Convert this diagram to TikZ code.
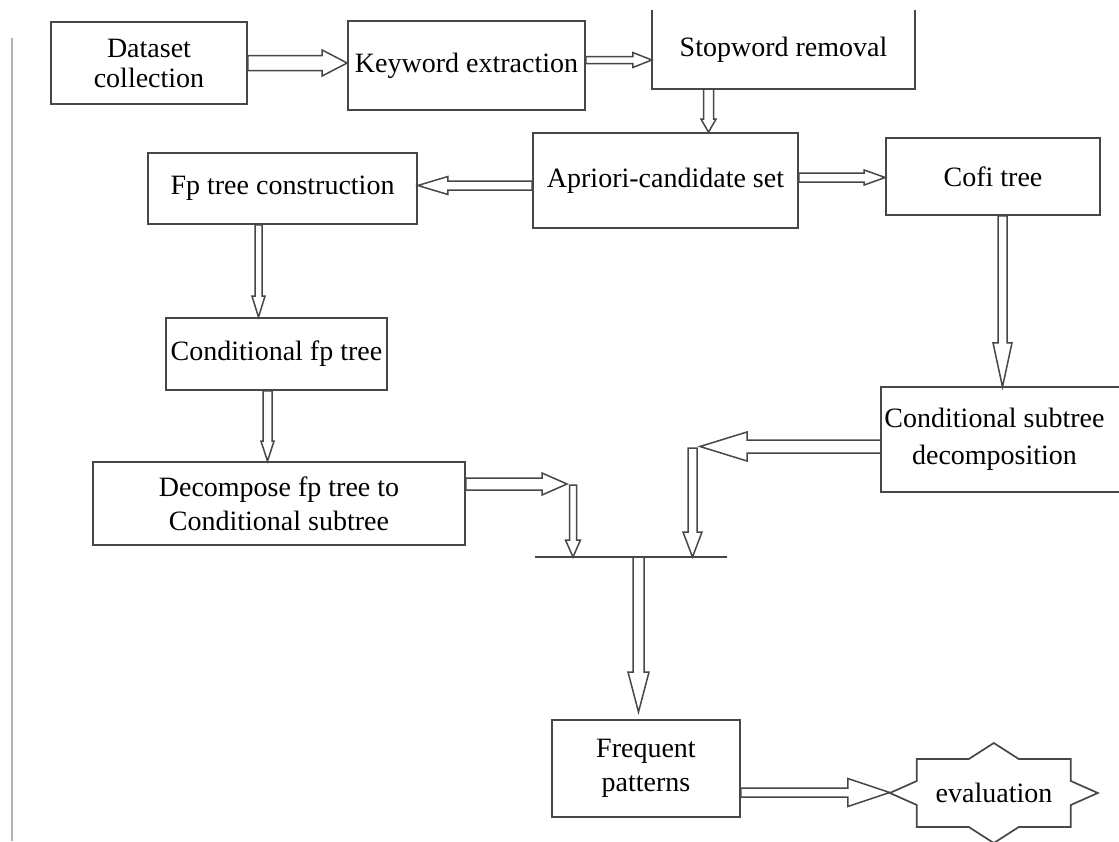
\documentclass[tikz,border=0pt]{standalone}
\usepackage{fontspec}
\setmainfont{Liberation Serif}
\usetikzlibrary{calc}

% hollow block arrow: start, tip, shaft half width, head half width, head length
\newcommand{\hollowarrow}[5]{%
  \coordinate (ha) at (#1);
  \coordinate (hz) at (#2);
  \coordinate (hb) at ($(hz)!#5!(ha)$);
  \draw[arrowline] ($(ha)!#3!90:(hz)$) -- ($(hb)!#3!90:(hz)$) -- ($(hb)!#4!90:(hz)$) -- (hz)
    -- ($(hb)!#4!-90:(hz)$) -- ($(hb)!#3!-90:(hz)$) -- ($(ha)!#3!-90:(hz)$) -- cycle;}

\begin{document}
\begin{tikzpicture}[x=1pt, y=-1pt,
    boxline/.style = {draw=black!72, line width=1.7pt},
    box/.style = {boxline, align=center, inner sep=0pt},
    openbox/.style = {align=center, inner sep=0pt},
    arrowline/.style = {draw=black!72, line width=1.5pt, fill=white, line join=miter},
    font=\fontsize{28}{34}\selectfont]
        \useasboundingbox (0,0) rectangle (1119,841);
        \draw[black!30, line width=1.5pt] (12,38) -- (12,841);

        \node[box, minimum width=196pt, minimum height=82pt, font=\fontsize{28}{30}\selectfont] (data) at (149,63) {Dataset\\collection};
        \node[box, minimum width=237pt, minimum height=89pt] (keyword) at (466.5,65.5) {Keyword extraction};
        \node[openbox, minimum width=263pt, minimum height=79pt] (stop) at (783.5,49.5) {Stopword removal};
        \node[box, minimum width=265pt, minimum height=95pt] (apriori) at (665.5,180.5) {Apriori-candidate set};
        \node[box, minimum width=269pt, minimum height=71pt] (fp) at (282.5,188.5) {Fp tree construction};
        \node[box, minimum width=214pt, minimum height=77pt] (cofi) at (993,176.5) {Cofi tree};
        \node[box, minimum width=221pt, minimum height=72pt] (condfp) at (276.5,354) {Conditional fp tree};
        \node[openbox, minimum width=227pt, minimum height=105pt, font=\fontsize{28}{37}\selectfont] (condsub) at (994.5,439.5) {Conditional subtree\\decomposition};
        \node[box, minimum width=372pt, minimum height=83pt] (decomp) at (279,503.5) {Decompose fp tree to\\Conditional subtree};
        \node[box, minimum width=188pt, minimum height=97pt] (freq) at (646,768.5) {Frequent\\patterns};
        \node[openbox, minimum width=208pt, minimum height=100pt] (eval) at (994,793) {evaluation};

        \draw[boxline] (stop.north west) -- (stop.south west) -- (stop.south east) -- (stop.north east);
        \draw[boxline] ([xshift=238pt]condsub.north west) -- (condsub.north west) -- (condsub.south west) -- ([xshift=238pt]condsub.south west);
        \draw[boxline] (eval.west) -- ++(27,-12) -- ++(0,-22) -- ++(52,0) -- ++(25,-16) -- ++(25,16) -- ++(52,0) -- ++(0,22) -- ++(27,12)
            -- ++(-27,12) -- ++(0,22) -- ++(-52,0) -- ++(-25,16) -- ++(-25,-16) -- ++(-52,0) -- ++(0,-22) -- cycle;

        \coordinate (jl) at (535,557);
        \coordinate (jr) at (727,557);
        \coordinate (jmid) at (638.5,557);
        \coordinate (ltop) at (573,485);
        \coordinate (rtop) at (692.5,448);
        \coordinate (lend) at (567,484);
        \coordinate (rend) at (700,446.5);
        \coordinate (fend) at (638.5,712);
        \draw[boxline] (jl) -- (jr);

        \hollowarrow{data.east}{ha -| keyword.west}{7.5pt}{13pt}{25pt}
        \hollowarrow{[yshift=5.5pt]keyword.east}{ha -| stop.west}{3.5pt}{7.5pt}{19pt}
        \hollowarrow{[xshift=-75pt]stop.south}{ha |- apriori.north}{5pt}{7.5pt}{13pt}
        \hollowarrow{[yshift=3pt]apriori.east}{ha -| cofi.west}{4.5pt}{7.5pt}{21pt}
        \hollowarrow{[yshift=-5pt]apriori.west}{ha -| fp.east}{4.5pt}{9pt}{30pt}
        \hollowarrow{[xshift=-24pt]fp.south}{ha |- condfp.north}{3.5pt}{6.5pt}{21pt}
        \hollowarrow{[xshift=-9pt]condfp.south}{ha |- decomp.north}{4.5pt}{6.5pt}{20pt}
        \hollowarrow{[yshift=19.5pt]decomp.east}{lend}{6pt}{11pt}{25pt}
        \hollowarrow{ltop}{ltop |- jl}{3.5pt}{7.5pt}{17pt}
        \hollowarrow{[xshift=9.5pt]cofi.south}{ha |- condsub.north}{4.5pt}{9.5pt}{44pt}
        \hollowarrow{[yshift=-7pt]condsub.west}{rend}{6.5pt}{14.5pt}{47pt}
        \hollowarrow{rtop}{rtop |- jr}{4.5pt}{9.5pt}{25pt}
        \hollowarrow{jmid}{fend}{5.5pt}{10.5pt}{40pt}
        \hollowarrow{[yshift=-24pt]freq.east}{ha -| eval.west}{4.5pt}{14pt}{42pt}
\end{tikzpicture}
\end{document}
